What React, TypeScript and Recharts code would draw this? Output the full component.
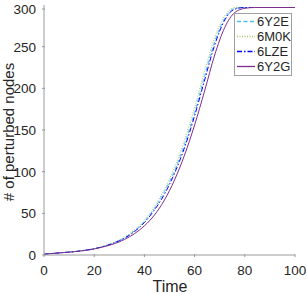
import { LineChart, Line, XAxis, YAxis } from "recharts";

const time = [0, 4, 8, 12, 16, 20, 24, 28, 32, 36, 40, 44, 48, 52, 56, 60, 64, 68, 72, 76, 80, 84, 88, 92, 96, 100];
const s6Y2E = [1, 2, 3, 4, 5.6, 7.6, 10.7, 15, 20.5, 29, 40, 56, 76, 101, 133, 171, 215, 256, 284, 296, 297, 297, 297, 297, 297, 297];
const s6M0K = [1, 2, 3, 4, 5.7, 7.8, 11, 15.5, 21.5, 30, 42, 58, 79, 105, 138, 177, 221, 261, 287, 297, 297, 297, 297, 297, 297, 297];
const s6LZE = [1, 2, 3, 4, 5.5, 7.5, 10.5, 14.5, 20, 28, 39, 54, 73, 98, 129, 167, 210, 252, 282, 295, 297, 297, 297, 297, 297, 297];
const s6Y2G = [1, 2, 3, 4, 5.3, 7.2, 10, 13.5, 18.5, 25.5, 35, 48, 66, 90, 120, 156, 197, 240, 273, 291, 296, 297, 297, 297, 297, 297];
const xTicks = [0, 20, 40, 60, 80, 100];
const yTicks = [0, 50, 100, 150, 200, 250, 300];

const data = time.map((t, i) => ({
  t,
  a: s6Y2E[i],
  b: s6M0K[i],
  c: s6LZE[i],
  d: s6Y2G[i],
}));

const series = [
  { key: "a", name: "6Y2E", color: "#4DBEEE", dash: "4 2.5" },
  { key: "b", name: "6M0K", color: "#9CC96E", dash: "1 1.5" },
  { key: "c", name: "6LZE", color: "#0000FF", dash: "5 2 1.5 2" },
  { key: "d", name: "6Y2G", color: "#7E2F8E", dash: undefined },
];

const FONT = "'Liberation Sans', Arial, sans-serif";
const AXIS = "#9a9a9a";
const TEXT = "#262626";

const BottomTick = (props: any) => {
  const { x, y, payload } = props;
  return (
    <g>
      <line x1={x} y1={y} x2={x} y2={y - 3} stroke={AXIS} />
      <text x={x} y={y + 18} textAnchor="middle" fontSize={13.5} fontFamily={FONT} fill={TEXT}>
        {payload.value}
      </text>
    </g>
  );
};

const LeftTick = (props: any) => {
  const { x, y, payload } = props;
  return (
    <g>
      <line x1={x} y1={y} x2={x + 3} y2={y} stroke={AXIS} />
      <text x={x - 6} y={y + 5} textAnchor="end" fontSize={13.5} fontFamily={FONT} fill={TEXT}>
        {payload.value}
      </text>
    </g>
  );
};

const TopTick = (props: any) => {
  const { x, y } = props;
  return <line x1={x} y1={y} x2={x} y2={y + 3} stroke={AXIS} />;
};

const RightTick = (props: any) => {
  const { x, y } = props;
  return <line x1={x} y1={y} x2={x - 3} y2={y} stroke={AXIS} />;
};

const LegendBox = () => (
  <div
    style={{
      position: "absolute",
      left: 234,
      top: 13,
      border: "1px solid #a0a0a0",
      background: "#fff",
      width: 56,
      padding: "0 0 1px 0",
      fontFamily: FONT,
      fontSize: 13,
      color: TEXT,
    }}
  >
    {series.map((s) => (
      <div key={s.key} style={{ display: "flex", alignItems: "center", height: 15 }}>
        <svg width={21} height={15} style={{ marginLeft: 1 }}>
          <line x1={1} y1={7.5} x2={19} y2={7.5} stroke={s.color} strokeWidth={1.3} strokeDasharray={s.dash} />
        </svg>
        <span style={{ lineHeight: "15px" }}>{s.name}</span>
      </div>
    ))}
  </div>
);

export default function App() {
  return (
    <div style={{ position: "absolute", left: 0, top: 0, width: 307, height: 294, background: "#fff" }}>
      <LineChart width={307} height={294} data={data} margin={{ top: 5, right: 12, left: 0, bottom: 0 }}>
        <XAxis
          dataKey="t"
          type="number"
          domain={[0, 100]}
          ticks={xTicks}
          height={39}
          stroke={AXIS}
          tickLine={false}
          tickSize={0}
          tick={<BottomTick />}
          label={() => (
            <text x={170} y={292} textAnchor="middle" fontSize={16} fontFamily={FONT} fill={TEXT}>
              Time
            </text>
          )}
        />
        <XAxis
          xAxisId="top"
          orientation="top"
          dataKey="t"
          type="number"
          domain={[0, 100]}
          ticks={xTicks}
          height={0}
          stroke={AXIS}
          tickLine={false}
          tickSize={0}
          tick={<TopTick />}
        />
        <YAxis
          type="number"
          domain={[0, 300]}
          ticks={yTicks}
          width={44}
          stroke={AXIS}
          tickLine={false}
          tickSize={0}
          tick={<LeftTick />}
          label={() => (
            <text
              x={13.5}
              y={132}
              transform="rotate(-90 13.5 132)"
              textAnchor="middle"
              fontSize={15}
              fontFamily={FONT}
              fill={TEXT}
            >
              # of perturbed nodes
            </text>
          )}
        />
        <YAxis
          yAxisId="right"
          orientation="right"
          type="number"
          domain={[0, 300]}
          ticks={yTicks}
          width={0}
          stroke={AXIS}
          tickLine={false}
          tickSize={0}
          tick={<RightTick />}
        />
        {series.map((s) => (
          <Line
            key={s.key}
            type="monotone"
            dataKey={s.key}
            name={s.name}
            stroke={s.color}
            strokeWidth={1}
            strokeDasharray={s.dash}
            dot={false}
            isAnimationActive={false}
          />
        ))}
      </LineChart>
      <LegendBox />
    </div>
  );
}
